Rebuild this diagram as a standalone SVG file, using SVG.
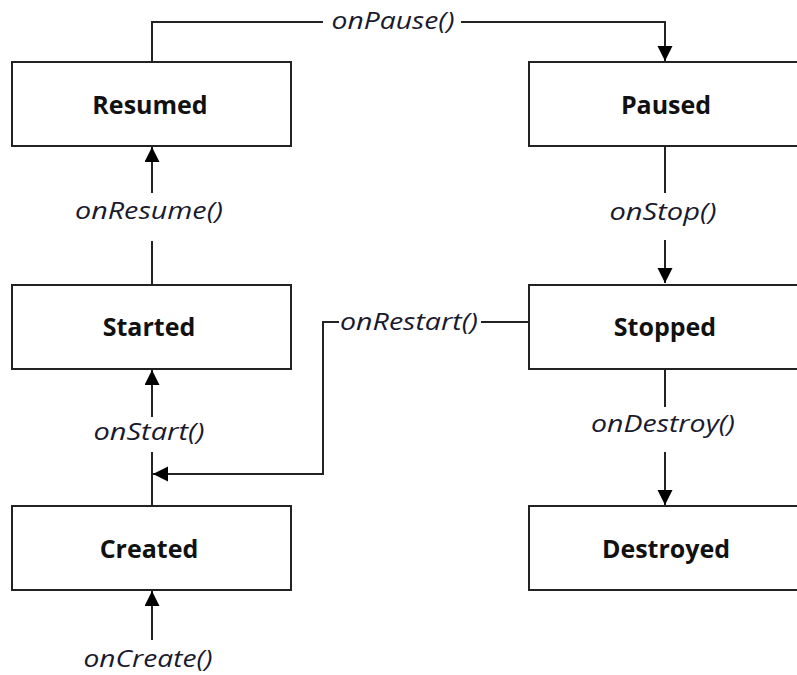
<svg xmlns="http://www.w3.org/2000/svg" width="797" height="675" viewBox="0 0 797 675">
<style>
.box{fill:#fff;stroke:#222;stroke-width:2}
.name{font-family:"Open Sans","Liberation Sans",sans-serif;font-weight:bold;font-size:25px;fill:#111;text-anchor:middle}
.lbl{font-family:"Open Sans","Liberation Sans",sans-serif;font-style:italic;font-size:23px;fill:#1a1a2e;text-anchor:middle}
.ln{fill:none;stroke:#222;stroke-width:2}
</style>
<defs>
<marker id="ah" markerUnits="userSpaceOnUse" markerWidth="16" markerHeight="16" refX="15" refY="7.5" orient="auto">
<path d="M0,0 L15,7.5 L0,15 z" fill="#000"/>
</marker>
</defs>
<rect width="797" height="675" fill="#fff"/>
<g id="connectors">
<polyline class="ln" points="152,62 152,22 323,22"/>
<polyline class="ln" points="461,22 665,22 665,61" marker-end="url(#ah)"/>
<line class="ln" x1="152" y1="284" x2="152" y2="241"/>
<line class="ln" x1="152" y1="193" x2="152" y2="147" marker-end="url(#ah)"/>
<line class="ln" x1="665" y1="146" x2="665" y2="193"/>
<line class="ln" x1="665" y1="240" x2="665" y2="283" marker-end="url(#ah)"/>
<line class="ln" x1="665" y1="369" x2="665" y2="407"/>
<line class="ln" x1="665" y1="452" x2="665" y2="505" marker-end="url(#ah)"/>
<line class="ln" x1="152" y1="506" x2="152" y2="452"/>
<line class="ln" x1="152" y1="417" x2="152" y2="370" marker-end="url(#ah)"/>
<line class="ln" x1="152" y1="640" x2="152" y2="591" marker-end="url(#ah)"/>
<line class="ln" x1="529" y1="322" x2="481" y2="322"/>
<polyline class="ln" points="339,322 323,322 323,474 153,474" marker-end="url(#ah)"/>
<text class="lbl" x="393" y="29" textLength="123" lengthAdjust="spacingAndGlyphs">onPause()</text>
<text class="lbl" x="149" y="219" textLength="148" lengthAdjust="spacingAndGlyphs">onResume()</text>
<text class="lbl" x="663" y="220" textLength="107" lengthAdjust="spacingAndGlyphs">onStop()</text>
<text class="lbl" x="409" y="330" textLength="138" lengthAdjust="spacingAndGlyphs">onRestart()</text>
<text class="lbl" x="149" y="440" textLength="111" lengthAdjust="spacingAndGlyphs">onStart()</text>
<text class="lbl" x="663" y="432" textLength="144" lengthAdjust="spacingAndGlyphs">onDestroy()</text>
<text class="lbl" x="148" y="667" textLength="129" lengthAdjust="spacingAndGlyphs">onCreate()</text>
</g>
<g id="resumed"><rect class="box" x="12" y="62" width="279" height="84"/><text class="name" x="150" y="114">Resumed</text></g>
<g id="paused"><rect class="box" x="529" y="62" width="280" height="84"/><text class="name" x="666" y="114">Paused</text></g>
<g id="started"><rect class="box" x="12" y="285" width="279" height="84"/><text class="name" x="149" y="336">Started</text></g>
<g id="stopped"><rect class="box" x="529" y="285" width="280" height="84"/><text class="name" x="665" y="336">Stopped</text></g>
<g id="created"><rect class="box" x="12" y="506" width="279" height="84"/><text class="name" x="149" y="558">Created</text></g>
<g id="destroyed"><rect class="box" x="529" y="506" width="280" height="84"/><text class="name" x="666" y="558">Destroyed</text></g>
</svg>
